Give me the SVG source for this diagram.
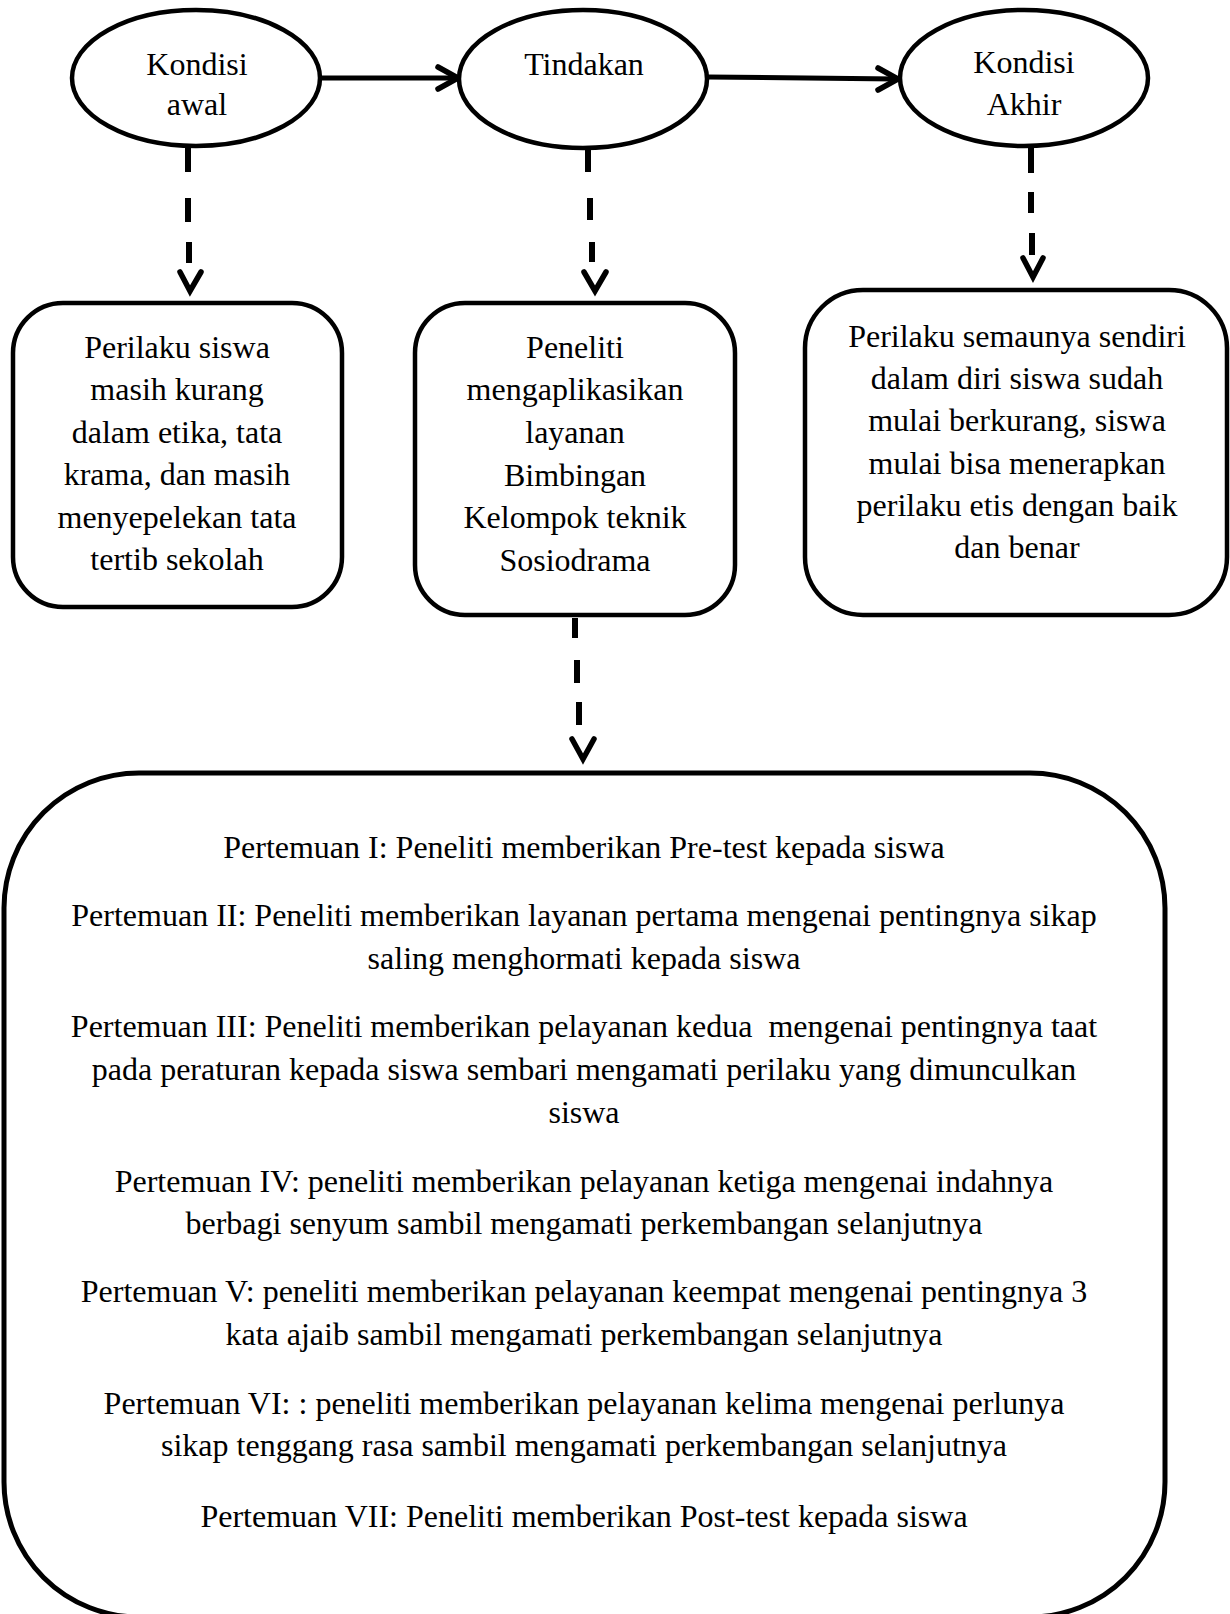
<svg xmlns="http://www.w3.org/2000/svg" width="1230" height="1614" viewBox="0 0 1230 1614">
<style>
  .shape { fill: #ffffff; stroke: #000000; stroke-width: 4.5; }
  .big { fill: #ffffff; stroke: #000000; stroke-width: 5; }
  .solid { fill: none; stroke: #000000; stroke-width: 5; stroke-linecap: round; stroke-linejoin: round; }
  .dash { fill: none; stroke: #000000; stroke-width: 6; stroke-linecap: butt; }
  .head { fill: none; stroke: #000000; stroke-width: 5.5; stroke-linecap: round; stroke-linejoin: miter; }
  text { font-family: "Liberation Serif", "Times New Roman", serif; font-size: 32px; fill: #000000; text-anchor: middle; }
</style>
<rect x="0" y="0" width="1230" height="1614" fill="#ffffff"/>

<g id="connectors">
  <path class="solid" d="M320,78 L456,78"/>
  <path class="head" d="M438,67 L458,78 L438,89"/>
  <path class="solid" d="M708,77 L896,79"/>
  <path class="head" d="M878,68 L898,79 L878,90"/>

  <path class="dash" d="M188,148 L188,172 M188,198 L188,222 M189,242 L189,263"/>
  <path class="head" d="M180,272 L190,291 L201,272"/>

  <path class="dash" d="M588,150 L588,172 M590,198 L590,220 M592,242 L592,262"/>
  <path class="head" d="M584,272 L595,291 L606,272"/>

  <path class="dash" d="M1031,148 L1031,173 M1031,192 L1031,213 M1032,233 L1032,255"/>
  <path class="head" d="M1023,258 L1033,277 L1043,258"/>

  <path class="dash" d="M575,618 L575,638 M577,660 L577,683 M579,702 L579,725"/>
  <path class="head" d="M572,739 L583,759 L594,739"/>
</g>

<g id="node-kondisi-awal">
  <ellipse class="shape" cx="196" cy="78" rx="124" ry="68"/>
  <text x="197" y="75">Kondisi</text>
  <text x="197" y="115">awal</text>
</g>

<g id="node-tindakan">
  <ellipse class="shape" cx="583" cy="79" rx="124" ry="69"/>
  <text x="584" y="75">Tindakan</text>
</g>

<g id="node-kondisi-akhir">
  <ellipse class="shape" cx="1024" cy="78" rx="124" ry="68"/>
  <text x="1024" y="73">Kondisi</text>
  <text x="1024" y="115">Akhir</text>
</g>

<g id="node-perilaku-awal">
  <rect class="shape" x="13" y="303" width="329" height="304" rx="50" ry="50"/>
  <text x="177" y="358">Perilaku siswa</text>
  <text x="177" y="400">masih kurang</text>
  <text x="177" y="443">dalam etika, tata</text>
  <text x="177" y="485">krama, dan masih</text>
  <text x="177" y="528">menyepelekan tata</text>
  <text x="177" y="570">tertib sekolah</text>
</g>

<g id="node-peneliti">
  <rect class="shape" x="415" y="303" width="320" height="312" rx="50" ry="50"/>
  <text x="575" y="358">Peneliti</text>
  <text x="575" y="400">mengaplikasikan</text>
  <text x="575" y="443">layanan</text>
  <text x="575" y="486">Bimbingan</text>
  <text x="575" y="528">Kelompok teknik</text>
  <text x="575" y="571">Sosiodrama</text>
</g>

<g id="node-perilaku-akhir">
  <rect class="shape" x="805" y="290" width="422" height="325" rx="58" ry="58"/>
  <text x="1017" y="347">Perilaku semaunya sendiri</text>
  <text x="1017" y="389">dalam diri siswa sudah</text>
  <text x="1017" y="431">mulai berkurang, siswa</text>
  <text x="1017" y="474">mulai bisa menerapkan</text>
  <text x="1017" y="516">perilaku etis dengan baik</text>
  <text x="1017" y="558">dan benar</text>
</g>

<g id="node-pertemuan">
  <rect class="big" x="4" y="773" width="1161" height="844" rx="135" ry="135"/>
  <text x="584" y="858">Pertemuan I: Peneliti memberikan Pre-test kepada siswa</text>
  <text x="584" y="926">Pertemuan II: Peneliti memberikan layanan pertama mengenai pentingnya sikap</text>
  <text x="584" y="969">saling menghormati kepada siswa</text>
  <text x="584" y="1037" xml:space="preserve" style="white-space:pre">Pertemuan III: Peneliti memberikan pelayanan kedua  mengenai pentingnya taat</text>
  <text x="584" y="1080">pada peraturan kepada siswa sembari mengamati perilaku yang dimunculkan</text>
  <text x="584" y="1123">siswa</text>
  <text x="584" y="1192">Pertemuan IV: peneliti memberikan pelayanan ketiga mengenai indahnya</text>
  <text x="584" y="1234">berbagi senyum sambil mengamati perkembangan selanjutnya</text>
  <text x="584" y="1302">Pertemuan V: peneliti memberikan pelayanan keempat mengenai pentingnya 3</text>
  <text x="584" y="1345">kata ajaib sambil mengamati perkembangan selanjutnya</text>
  <text x="584" y="1414">Pertemuan VI: : peneliti memberikan pelayanan kelima mengenai perlunya</text>
  <text x="584" y="1456">sikap tenggang rasa sambil mengamati perkembangan selanjutnya</text>
  <text x="584" y="1527">Pertemuan VII: Peneliti memberikan Post-test kepada siswa</text>
</g>
</svg>
